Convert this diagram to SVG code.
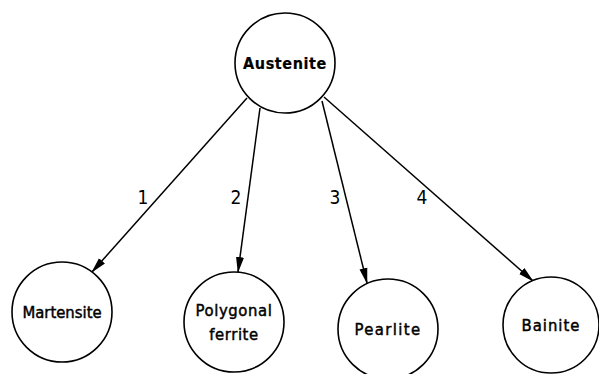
<svg xmlns="http://www.w3.org/2000/svg" width="599" height="374" viewBox="0 0 599 374">
<style>
.node circle{fill:#fff;stroke:#000;stroke-width:1.6}
.node text{font-family:"DejaVu Sans Condensed","DejaVu Sans",sans-serif;font-size:16.5px;fill:#000;stroke:#000;stroke-width:0.45;text-anchor:middle;letter-spacing:0.6px}
.edge{stroke:#000;stroke-width:1.5;fill:none;marker-end:url(#arr)}
.lbl{font-family:"DejaVu Sans Condensed","DejaVu Sans",sans-serif;font-size:19px;fill:#000;text-anchor:middle}
</style>
<defs>
<marker id="arr" viewBox="0 0 16 9" refX="15" refY="4.5" markerWidth="16" markerHeight="9" markerUnits="userSpaceOnUse" orient="auto">
<path d="M0,0.5 L16,4.5 L0,8.5 Z" fill="#000"/>
</marker>
</defs>
<rect width="599" height="374" fill="#fff"/>
<g id="connectors">
<line class="edge" x1="247" y1="98" x2="92" y2="272"/>
<line class="edge" x1="260" y1="108" x2="238" y2="272"/>
<line class="edge" x1="322" y1="101" x2="367" y2="283"/>
<line class="edge" x1="324" y1="97" x2="533" y2="281"/>
<text class="lbl" x="143" y="204">1</text>
<text class="lbl" x="236" y="204">2</text>
<text class="lbl" x="335" y="204">3</text>
<text class="lbl" x="422" y="204">4</text>
</g>
<g id="austenite" class="node">
<circle cx="285" cy="63" r="50"/>
<text x="285" y="69" font-weight="bold" style="font-size:16px;stroke-width:0.2">Austenite</text>
</g>
<g id="martensite" class="node">
<circle cx="62" cy="312" r="50"/>
<text x="62" y="318" style="letter-spacing:0">Martensite</text>
</g>
<g id="polygonal-ferrite" class="node">
<circle cx="234" cy="322" r="50"/>
<text x="234" y="316">Polygonal</text>
<text x="234" y="340">ferrite</text>
</g>
<g id="pearlite" class="node">
<circle cx="388" cy="329" r="50"/>
<text x="388" y="335" style="letter-spacing:1.4px">Pearlite</text>
</g>
<g id="bainite" class="node">
<circle cx="551" cy="325" r="48"/>
<text x="551" y="331" style="letter-spacing:1px">Bainite</text>
</g>
</svg>
